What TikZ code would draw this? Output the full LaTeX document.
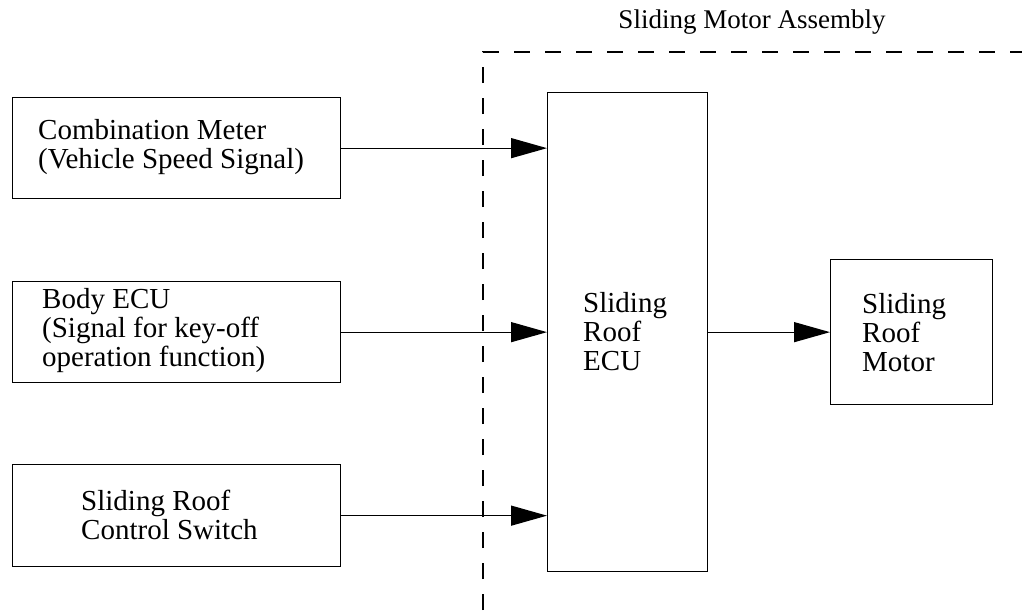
\documentclass[tikz,border=0pt]{standalone}
\usepackage{fontspec}
\setmainfont{Liberation Serif}
\usetikzlibrary{arrows.meta}
\begin{document}
\begin{tikzpicture}[x=1pt,y=-1pt,
  box/.style={draw, line width=1.3pt, minimum width=#1, inner sep=0pt, anchor=north west},
  lbl/.style={align=left, anchor=west, inner sep=0pt, font=\fontsize{29}{29}\selectfont},
  conn/.style={line width=1.3pt, -{Triangle[length=36pt,width=20pt]}},
  bound/.style={dashed, dash pattern=on 16pt off 15pt, line width=1.3pt}]
\useasboundingbox (0,0) rectangle (1022,610);
\node[box=328pt, minimum height=101pt] (b1) at (12,97) {};
\node[box=328pt, minimum height=101pt] (b2) at (12,281) {};
\node[box=328pt, minimum height=102pt] (b3) at (12,464) {};
\node[box=160pt, minimum height=479pt] (ecu) at (547,92) {};
\node[box=162pt, minimum height=145pt] (mot) at (830,259) {};
\node[lbl] (t1) at (38,147) {Combination Meter\\(Vehicle Speed Signal)};
\node[lbl] (t2) at (42,331) {Body ECU\\(Signal for key-off\\operation function)};
\node[lbl] (t3) at (81,515) {Sliding Roof\\Control Switch};
\node[lbl] (t4) at (583,332) {Sliding\\Roof\\ECU};
\node[lbl] (t5) at (862,333) {Sliding\\Roof\\Motor};
\node[lbl, anchor=center, font=\fontsize{27}{29}\selectfont] (title) at (752,22) {Sliding Motor Assembly};
\coordinate (dtop) at (483,52);
\coordinate (dbot) at (483,610);
\coordinate (dright) at (1022,52);
\draw[bound] (dbot) -- (dtop) -- (dright);
\draw[conn] (b1.east) -- (b1.east -| ecu.west);
\draw[conn] (b2.east) -- (b2.east -| ecu.west);
\draw[conn] (b3.east) -- (b3.east -| ecu.west);
\draw[conn] (mot.west -| ecu.east) -- (mot.west);
\end{tikzpicture}
\end{document}
